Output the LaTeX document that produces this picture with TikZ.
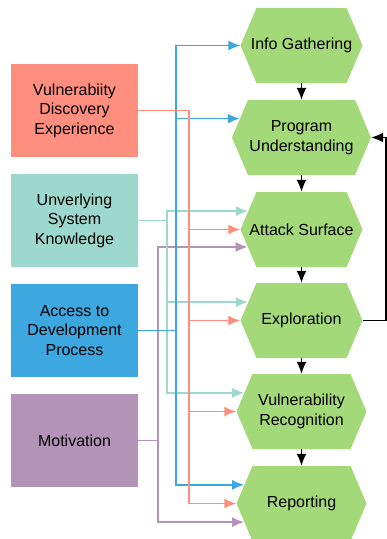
\documentclass[tikz,border=0pt]{standalone}
\usepackage{fontspec}
\setmainfont{Liberation Sans}
\usetikzlibrary{shapes.symbols,arrows.meta}
\definecolor{expsalmon}{HTML}{FF8E7F}
\definecolor{systeal}{HTML}{9CD8CD}
\definecolor{procblue}{HTML}{3DA7DF}
\definecolor{motpurple}{HTML}{B393B7}
\definecolor{hexgreen}{HTML}{A4D979}
\tikzset{
  factorbox/.style={rectangle, minimum width=127pt, minimum height=93pt, align=center, inner sep=2pt},
  phasehex/.style={signal, signal to=east and west, signal pointer angle=134, fill=hexgreen,
    minimum height=75pt, align=center, inner xsep=-10pt},
  flowline/.style={line width=1.6pt, ->},
  stepline/.style={line width=1.4pt, black, ->},
}
\begin{document}
\begin{tikzpicture}[x=1pt,y=-1pt,>={Latex[length=12pt,width=10pt]},font=\fontsize{16}{19.5}\selectfont]
            \def\fx{74.5}
            \def\hx{301.5}
            \useasboundingbox (0,0) rectangle (387,539);
            % influencing factors
            \node[factorbox,fill=expsalmon] (vde) at (\fx,110.5) {Vulnerabiity\\Discovery\\Experience};
            \node[factorbox,fill=systeal] (usk) at (\fx,220.5) {Unverlying\\System\\Knowledge};
            \node[factorbox,fill=procblue] (adp) at (\fx,330.5) {Access to\\Development\\Process};
            \node[factorbox,fill=motpurple] (mot) at (\fx,440.5) {Motivation};
            % phases
            \node[phasehex,minimum width=122pt] (ig) at (\hx,45.5) {Info Gathering};
            \node[phasehex,minimum width=139pt] (pu) at (\hx,137.5) {Program\\Understanding};
            \node[phasehex,minimum width=122pt] (atk) at (\hx,229.5) {Attack Surface};
            \node[phasehex,minimum width=122pt] (ex) at (\hx,320.5) {Exploration};
            \node[phasehex,minimum width=130pt] (vr) at (\hx,411.5) {Vulnerability\\Recognition};
            \node[phasehex,minimum width=130pt] (rp) at (\hx,503.5) {Reporting};
            % trunks
            \coordinate (tp) at (158,0);
            \coordinate (tt) at (167,0);
            \coordinate (tb) at (176,0);
            \coordinate (ts) at (189,0);
            \coordinate (lp) at (386,0);
            \foreach \t in {atk.198,rp.198}
              \draw[flowline,motpurple] (mot.east) -- (tp |- mot.east) |- (\t);
            \foreach \t in {atk.161,ex.161,vr.162}
              \draw[flowline,systeal] (usk.east) -- (tt |- usk.east) |- (\t);
            \foreach \t in {ig.west,pu.163,rp.162}
              \draw[flowline,procblue] (adp.east) -- (tb |- adp.east) |- (\t);
            \foreach \t in {atk.west,ex.west,vr.west,rp.west}
              \draw[flowline,expsalmon] (vde.east) -- (ts |- vde.east) |- (\t);
            % sequence
            \foreach \a/\b in {ig/pu,pu/atk,atk/ex,ex/vr,vr/rp}
              \draw[stepline] (\a.south) -- (\b.north);
            \draw[stepline] (ex.east) -- (lp |- ex.east) |- (pu.east);
            \end{tikzpicture}
\end{document}
